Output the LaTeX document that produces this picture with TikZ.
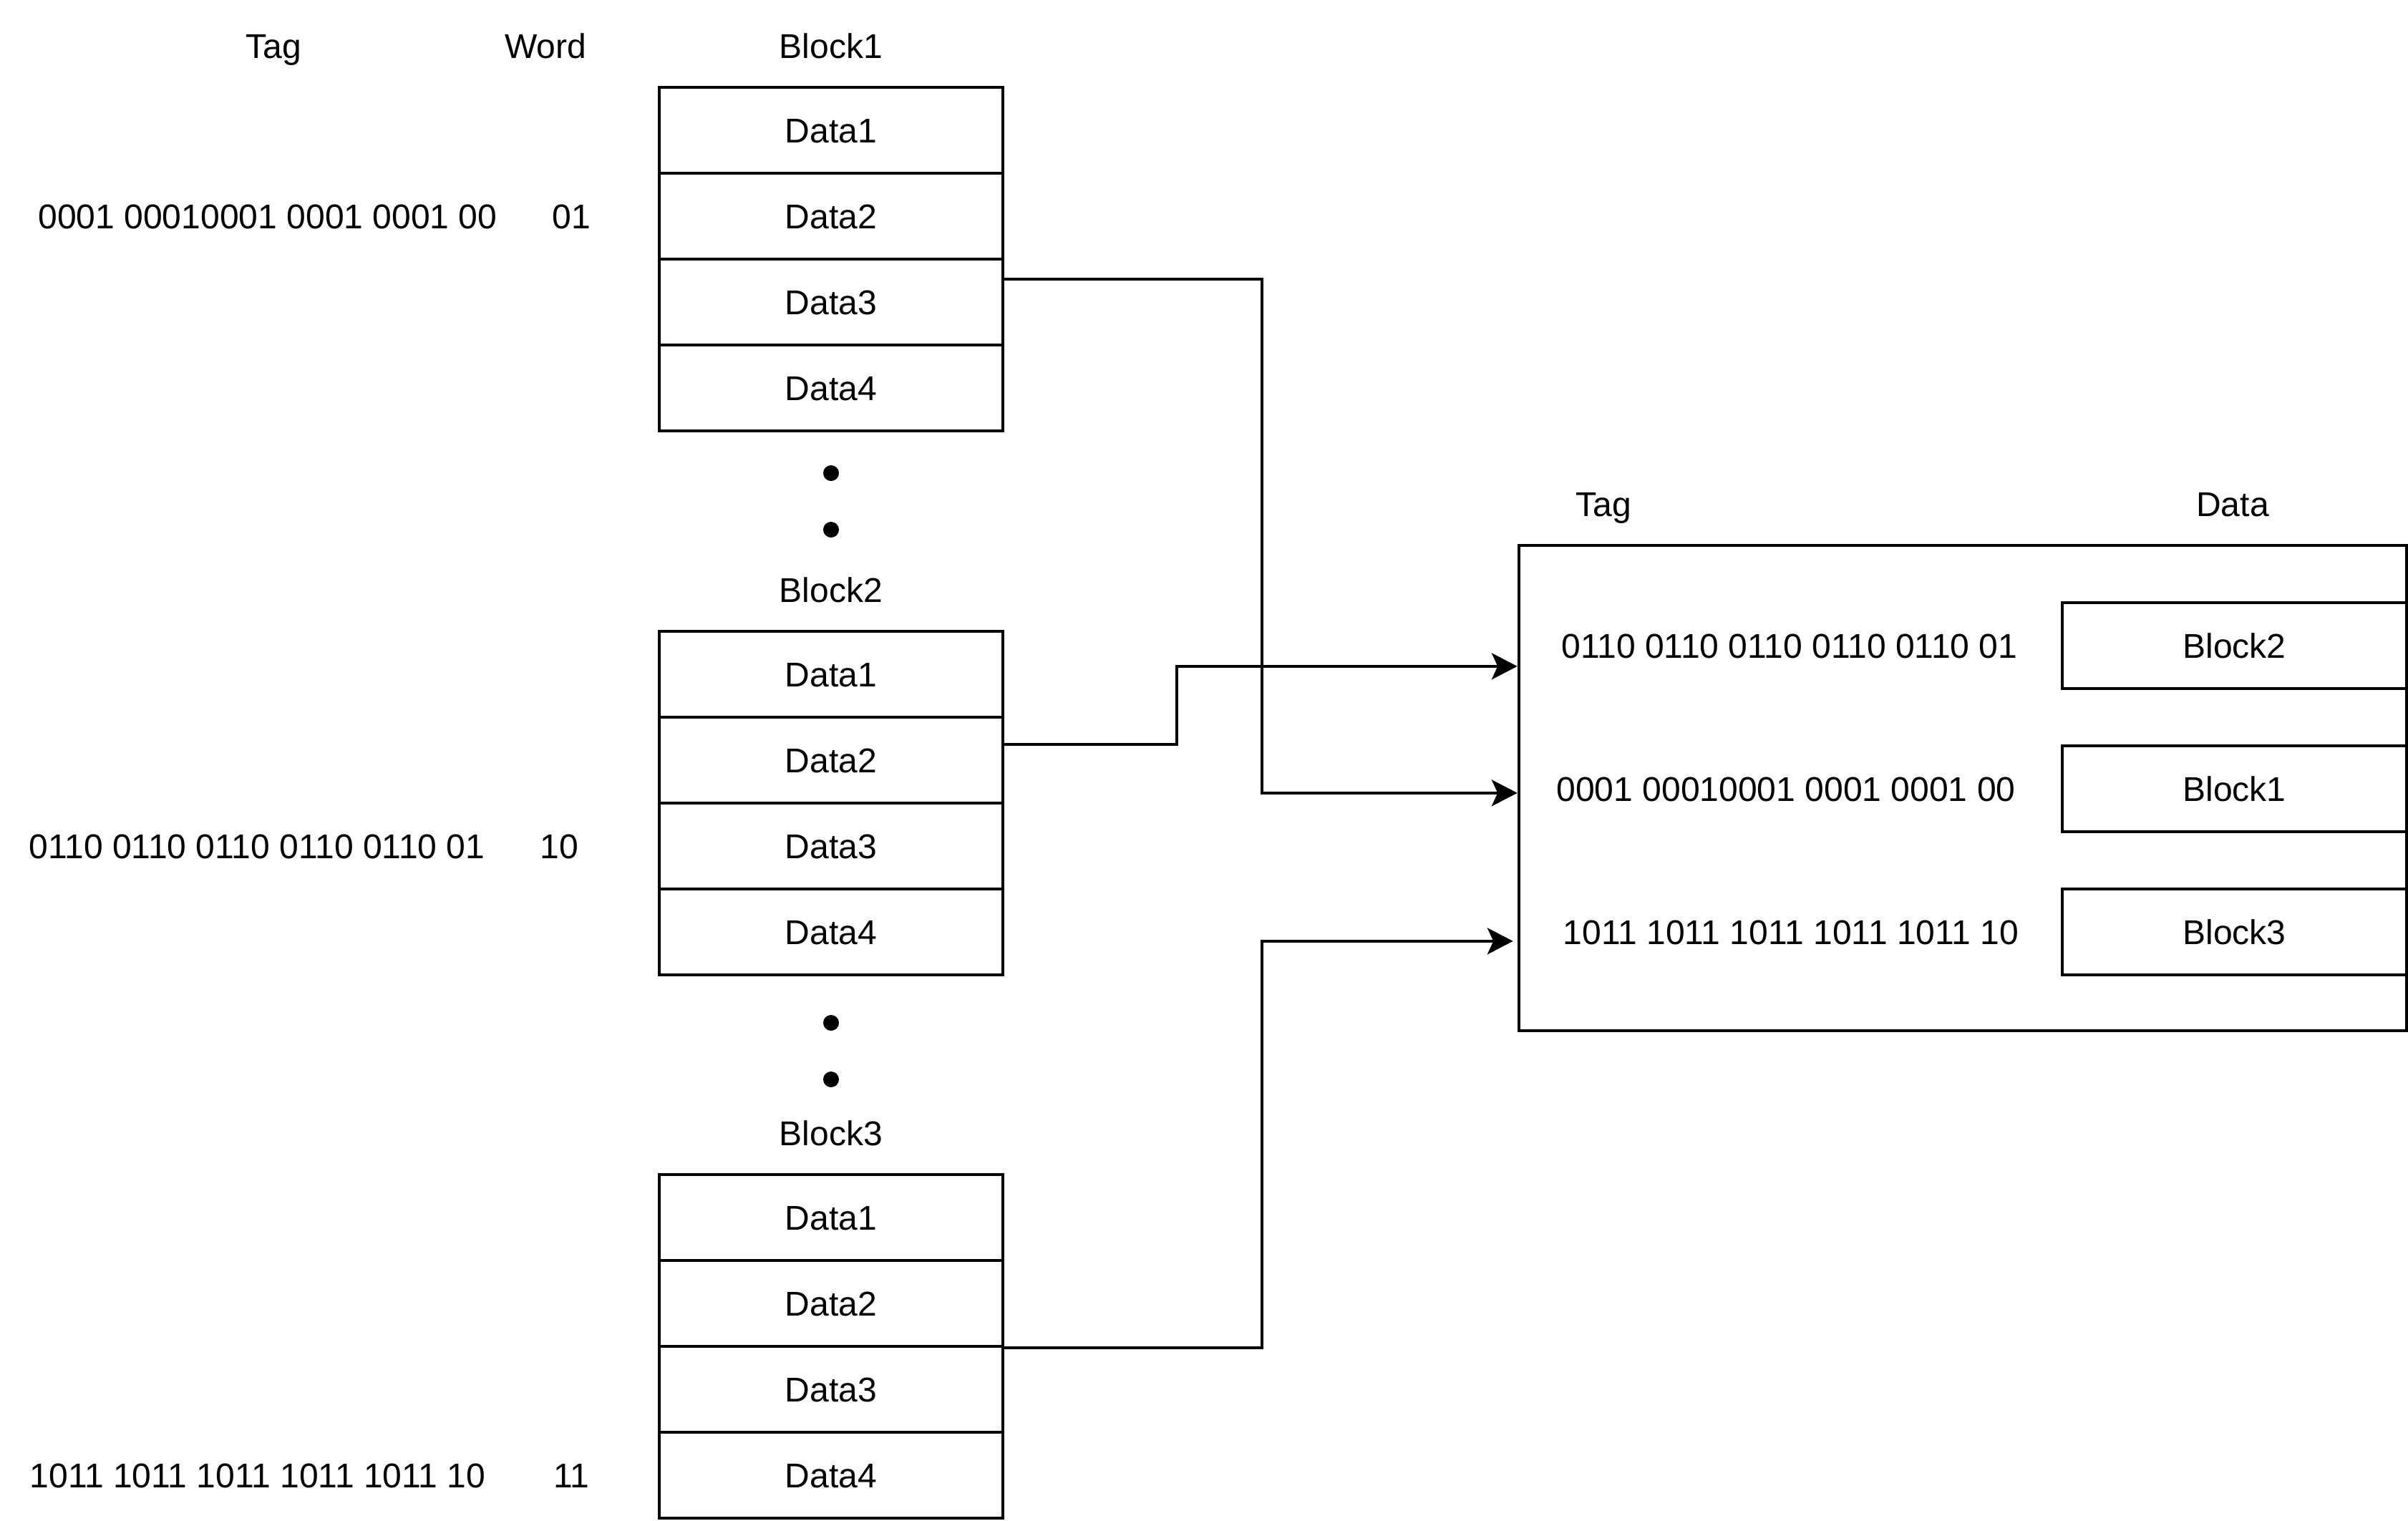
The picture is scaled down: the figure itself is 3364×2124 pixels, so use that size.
\documentclass[tikz,border=0pt]{standalone}
\usepackage{fontspec}
\setmainfont{Liberation Sans}
\usetikzlibrary{arrows.meta,calc}
\begin{document}
\begin{tikzpicture}[x=0.01cm,y=-0.01cm,
  every node/.style={font=\fontsize{13.66}{16}\selectfont, text height=0.34cm, text depth=0cm, inner sep=0pt},
  cell/.style={draw, line width=1.1pt, minimum width=4.8cm, minimum height=1.2cm},
  frame/.style={draw, line width=1.1pt, minimum width=12.4cm, minimum height=6.78cm},
  dot/.style={circle, fill, inner sep=0pt, minimum size=0.22cm, text height=0pt, text depth=0pt},
  conn/.style={line width=1.1pt, -{Stealth[length=10.2pt, width=10.5pt, inset=2.4pt]}}
]
\useasboundingbox (0,0) rectangle (3364,2124);

% column headers
\node (htag)  at (382,64)  {Tag};
\node (hword) at (762,64)  {Word};

% memory blocks
\node (blk1) at (1161,64) {Block1};
\node[cell] (b1d1) at (1161,182) {Data1};
\node[cell] (b1d2) at (1161,302) {Data2};
\node[cell] (b1d3) at (1161,422) {Data3};
\node[cell] (b1d4) at (1161,542) {Data4};

\node[dot] (dotA) at (1161,661) {};
\node[dot] (dotB) at (1161,740) {};

\node (blk2) at (1161,824) {Block2};
\node[cell] (b2d1) at (1161,942)  {Data1};
\node[cell] (b2d2) at (1161,1062) {Data2};
\node[cell] (b2d3) at (1161,1182) {Data3};
\node[cell] (b2d4) at (1161,1302) {Data4};

\node[dot] (dotC) at (1161,1429) {};
\node[dot] (dotD) at (1161,1508) {};

\node (blk3) at (1161,1583) {Block3};
\node[cell] (b3d1) at (1161,1701) {Data1};
\node[cell] (b3d2) at (1161,1821) {Data2};
\node[cell] (b3d3) at (1161,1941) {Data3};
\node[cell] (b3d4) at (1161,2061) {Data4};

% addresses: tag and word
\node (tag1)  at (374,302)  {0001 00010001 0001 0001 00};
\node (word1) at (798,302)  {01};
\node (tag2)  at (359,1182) {0110 0110 0110 0110 0110 01};
\node (word2) at (781,1182) {10};
\node (tag3)  at (360,2061) {1011 1011 1011 1011 1011 10};
\node (word3) at (798,2061) {11};

% cache
\node (ctag)  at (2240,704) {Tag};
\node (cdata) at (3119,704) {Data};
\node[frame] (cache) at (2742,1101) {};
\node (ct1) at (2500,902)  {0110 0110 0110 0110 0110 01};
\node (ct2) at (2495,1102) {0001 00010001 0001 0001 00};
\node (ct3) at (2502,1302) {1011 1011 1011 1011 1011 10};
\node[cell, minimum width=4.81cm] (cb1) at (3121.5,902)  {Block2};
\node[cell, minimum width=4.81cm] (cb2) at (3121.5,1102) {Block1};
\node[cell, minimum width=4.81cm] (cb3) at (3121.5,1302) {Block3};

% connectors
\draw[conn] ($(b1d3.north east)+(0,30)$) -- ++(360,0) |- ($(cache.north west)+(0,348)$);
\draw[conn] ($(b2d2.north east)+(0,40)$) -- ++(241,0) |- ($(cache.north west)+(0,171)$);
\draw[conn] (b3d2.south east) -- ++(360,0) |- ($(cache.north west)+(-6,555)$);
\end{tikzpicture}
\end{document}
